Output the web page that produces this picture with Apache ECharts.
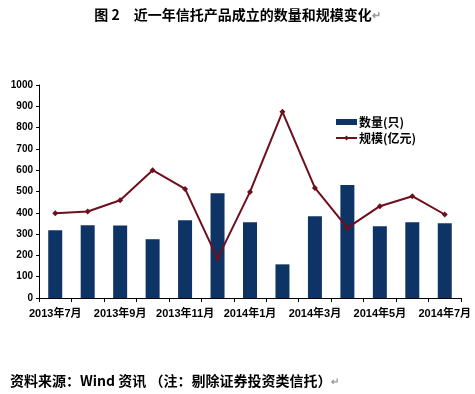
<!DOCTYPE html>
<html><head><meta charset="utf-8">
<script src="https://cdn.jsdelivr.net/npm/echarts@6/dist/echarts.min.js"></script>
<style>html,body{margin:0;padding:0;background:#fff}#c{width:475px;height:394px}</style>
</head><body><div id="c"></div>
<script>
const categories = ['2013年7月','2013年8月','2013年9月','2013年10月','2013年11月','2013年12月','2014年1月','2014年2月','2014年3月','2014年4月','2014年5月','2014年6月','2014年7月'];
const countValues = [318, 342, 340, 276, 365, 492, 356, 158, 384, 530, 337, 356, 351];
const scaleValues = [398, 406, 459, 600, 512, 185, 498, 874, 517, 329, 431, 478, 392];
const yTicks = [0, 100, 200, 300, 400, 500, 600, 700, 800, 900, 1000];

const chart = echarts.init(document.getElementById('c'));
const cjk = '"Noto Sans CJK SC", sans-serif';
chart.setOption({
  animation: false,
  backgroundColor: '#fff',
  title: [{
    text: '图 2　近一年信托产品成立的数量和规模变化{r|↵}',
    left: 'center', top: 3,
    textStyle: { fontFamily: cjk, fontSize: 14, fontWeight: 'bold', color: '#000',
      rich: { r: { color: '#999', fontSize: 11 } } }
  }, {
    text: '资料来源：Wind 资讯 （注：剔除证券投资类信托）{r|↵}',
    left: 5, top: 369,
    textStyle: { fontFamily: cjk, fontSize: 14, fontWeight: 'bold', color: '#000',
      rich: { r: { color: '#999', fontSize: 10 } } }
  }],
  legend: {
    left: 330, top: 111, orient: 'vertical', itemGap: 4, itemWidth: 21, itemHeight: 6,
    textStyle: { fontFamily: cjk, fontSize: 12, fontWeight: 'bold', color: '#000', padding: [0,0,0,-3] },
    data: [{ name: '数量(只)', icon: 'rect' }, { name: '规模(亿元)' }]
  },
  grid: { left: 39, right: 14, top: 85, bottom: 96 },
  xAxis: {
    type: 'category', data: categories, boundaryGap: true,
    axisLine: { lineStyle: { color: '#000', width: 1 } },
    axisTick: { show: true, length: 4, lineStyle: { color: '#000' }, interval: 0 },
    axisLabel: {
      interval: 1, color: '#000', fontSize: 11, fontWeight: 'bold',
      fontFamily: '"Liberation Sans", "Noto Sans CJK SC", sans-serif', margin: 10
    }
  },
  yAxis: {
    type: 'value', min: yTicks[0], max: yTicks[yTicks.length - 1], interval: 100,
    axisLine: { show: true, lineStyle: { color: '#000', width: 1 } },
    axisTick: { show: true, length: 3, lineStyle: { color: '#000' } },
    splitLine: { show: false },
    axisLabel: { color: '#000', fontSize: 10, fontWeight: 'bold',
      fontFamily: '"Liberation Sans", sans-serif', margin: 6,
      formatter: v => String(v) }
  },
  series: [{
    name: '数量(只)', type: 'bar', data: countValues, barWidth: 14,
    itemStyle: { color: '#0E3466' }
  }, {
    name: '规模(亿元)', type: 'line', data: scaleValues,
    symbol: 'diamond', symbolSize: 6,
    lineStyle: { color: '#6E0F1C', width: 2 },
    itemStyle: { color: '#6E0F1C' }
  }]
});
</script></body></html>
